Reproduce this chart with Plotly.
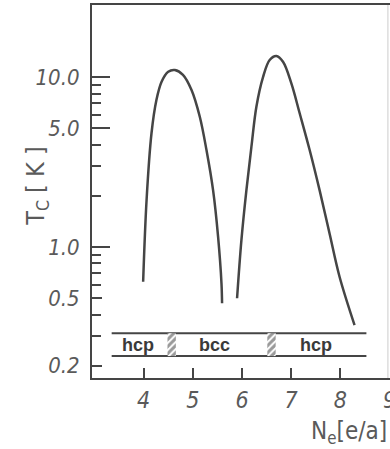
import math
import plotly.graph_objects as go

# ---- data ----
curve1_x = [3.99, 4.06, 4.16, 4.26, 4.365, 4.50, 4.635, 4.80, 4.974, 5.142, 5.278, 5.412, 5.514, 5.583, 5.595]
curve1_y = [0.624, 1.89, 4.67, 7.33, 9.39, 10.75, 11.0, 10.3, 8.39, 5.84, 3.72, 2.16, 1.15, 0.61, 0.466]
curve2_x = [5.90, 5.989, 6.09, 6.192, 6.293, 6.428, 6.563, 6.70, 6.834, 7.004, 7.173, 7.376, 7.578, 7.781, 7.984, 8.289]
curve2_y = [0.499, 1.10, 2.16, 3.89, 6.69, 10.0, 12.6, 13.3, 12.3, 9.18, 6.12, 3.72, 2.16, 1.20, 0.668, 0.347]

band_x = [3.35, 8.53]
band_lower = 0.228
band_upper = 0.311
phase_labels = ["hcp", "bcc", "hcp"]
phase_label_x = [3.88, 5.44, 7.50]
hatch_x = [4.57, 6.60]
hatch_w = 0.17

x_ticks = [4, 5, 6, 7, 8, 9]
y_major = [0.2, 0.5, 1.0, 5.0, 10.0]
y_major_text = ["0.2", "0.5", "1.0", "5.0", "10.0"]
y_long = [1.0, 5.0, 10.0]
y_minor = [0.3, 0.4, 0.6, 0.7, 0.8, 0.9, 2, 3, 4, 6, 7, 8, 9]

INK = "#454545"
TXT = "#5a5a5a"
NARROW = "Liberation Sans Narrow, DejaVu Sans Condensed, DejaVu Sans"

fig = go.Figure()

for cx, cy in [(curve1_x, curve1_y), (curve2_x, curve2_y)]:
    fig.add_trace(go.Scatter(x=cx, y=cy, mode="lines",
                             line=dict(color=INK, width=2.5, shape="spline", smoothing=1.0),
                             hoverinfo="skip", showlegend=False))

for yv in [band_lower, band_upper]:
    fig.add_trace(go.Scatter(x=band_x, y=[yv, yv], mode="lines",
                             line=dict(color=INK, width=2), hoverinfo="skip", showlegend=False))

for hx in hatch_x:
    fig.add_trace(go.Scatter(
        x=[hx - hatch_w / 2, hx + hatch_w / 2, hx + hatch_w / 2, hx - hatch_w / 2, hx - hatch_w / 2],
        y=[band_lower, band_lower, band_upper, band_upper, band_lower],
        mode="lines", fill="toself", line=dict(width=0, color="rgba(0,0,0,0)"),
        fillcolor="rgba(0,0,0,0)",
        fillpattern=dict(shape="/", fgcolor="#333333", bgcolor="white", size=5, solidity=0.6),
        hoverinfo="skip", showlegend=False))

band_mid_log = (math.log10(band_lower) + math.log10(band_upper)) / 2
for lbl, lx in zip(phase_labels, phase_label_x):
    fig.add_annotation(x=lx, y=band_mid_log, yref="y", xref="x", text=lbl, showarrow=False,
                       font=dict(family="Liberation Sans, DejaVu Sans", size=18, color="#3a3a3a", weight="bold"),
                       yanchor="middle")

# overlay axis for the long ticks
fig.add_trace(go.Scatter(x=[None], y=[None], yaxis="y2", showlegend=False, hoverinfo="skip"))

fig.update_layout(
    width=390, height=449,
    margin=dict(l=92, r=0, t=5, b=71),
    paper_bgcolor="white", plot_bgcolor="white",
    xaxis=dict(range=[2.95, 9.01], tickvals=x_ticks, ticks="inside", ticklen=10, tickwidth=2,
               tickcolor=INK, showline=True, linewidth=2, linecolor=INK, mirror=True,
               showgrid=False, zeroline=False, automargin=False,
               tickfont=dict(family=NARROW, size=23, color=TXT, style="italic"),
               ticklabelstandoff=0, ticklabeloverflow="allow"),
    yaxis=dict(type="log", range=[-0.771, 1.424], tickvals=y_major, ticktext=y_major_text,
               ticks="inside", ticklen=10, tickwidth=2, tickcolor=INK, automargin=False,
               showline=True, linewidth=2, linecolor=INK, showgrid=False, zeroline=False,
               tickfont=dict(family=NARROW, size=22, color=TXT, style="italic"),
               ticklabelstandoff=6,
               minor=dict(tickvals=y_minor, ticks="inside", ticklen=9, tickwidth=1.5,
                          tickcolor=INK, showgrid=False)),
    yaxis2=dict(type="log", range=[-0.771, 1.424], overlaying="y", side="left",
                tickvals=y_long, ticks="inside", ticklen=18, tickwidth=2, tickcolor=INK,
                showticklabels=False, showgrid=False, zeroline=False, showline=False,
                automargin=False),
)

fig.add_annotation(xref="paper", yref="paper", x=-0.185, y=0.515, textangle=-90,
                   xanchor="center", yanchor="middle",
                   text="T<sub>C</sub> [ K ]", showarrow=False,
                   font=dict(family=NARROW, size=25, color=TXT))
fig.add_annotation(xref="paper", yref="paper", x=0.997, y=-0.10, xanchor="right", yanchor="top",
                   text="N<sub>e</sub>[e/a]", showarrow=False,
                   font=dict(family=NARROW, size=24, color=TXT))

fig.add_shape(type="line", xref="paper", yref="paper", x0=0.993, x1=0.993, y0=0, y1=1,
              line=dict(color="#cccccc", width=1))

fig.write_html("out.html")
